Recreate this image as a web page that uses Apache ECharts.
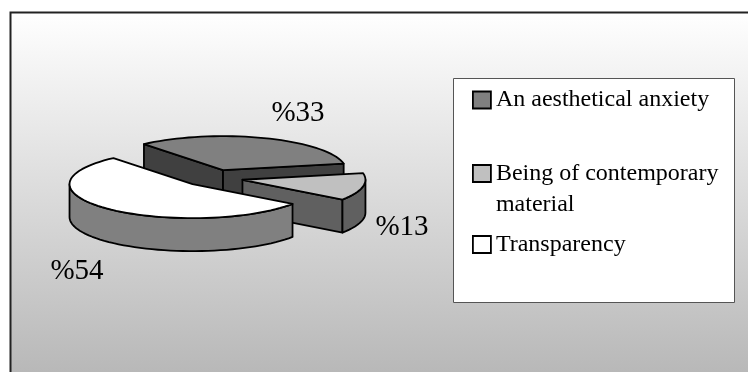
<!DOCTYPE html>
<html><head><meta charset="utf-8">
<style>html,body{margin:0;padding:0;background:#fff}#c{width:748px;height:372px}</style>
<script src="https://cdn.jsdelivr.net/npm/echarts@6/dist/echarts.min.js"></script>
</head><body><div id="c"></div>
<script>
const categories = ['An aesthetical anxiety', 'Being of contemporary material', 'Transparency'];
const values = [33, 13, 54];
const topColors = ['#808080', '#c0c0c0', '#ffffff'];
const sideColors = ['#404040', '#606060', '#808080'];

const FONT = '"Liberation Serif","Times New Roman",serif';
const CX = 213, CY = 178, RX = 123, RY = 34, DEPTH = 33, EXPLODE = 0.245, START = 230;
const labelPos = [[298, 113], [402, 227], [77, 271]];
const total = values.reduce((a, b) => a + b, 0);

function pt(cx, cy, deg) {
  const r = deg * Math.PI / 180;
  return [cx + RX * Math.cos(r), cy + RY * Math.sin(r)];
}
function arc(cx, cy, a, b) {
  const out = [];
  const n = Math.max(2, Math.ceil((b - a) / 3));
  for (let i = 0; i <= n; i++) out.push(pt(cx, cy, a + (b - a) * i / n));
  return out;
}
function renderSlice(params, api) {
  const i = params.seriesIndex;
  const v = api.value(0);
  let before = 0;
  for (let k = 0; k < i; k++) before += values[k];
  const a = START + before / total * 360;
  const b = a + v / total * 360;
  const mid = (a + b) / 2 * Math.PI / 180;
  const cx = CX + EXPLODE * RX * Math.cos(mid);
  const cy = CY + EXPLODE * RY * Math.sin(mid);
  const stroke = {stroke: '#000', lineWidth: 1.8, lineJoin: 'round'};
  const poly = (points, fill) => ({type: 'polygon', silent: true, shape: {points}, style: Object.assign({fill}, stroke)});
  const children = [];
  const wall = (deg) => {
    const p = pt(cx, cy, deg);
    children.push(poly([[cx, cy], p, [p[0], p[1] + DEPTH], [cx, cy + DEPTH]], sideColors[i]));
  };
  if (Math.cos(a * Math.PI / 180) < 0) wall(a);
  if (Math.cos(b * Math.PI / 180) > 0) wall(b);
  // visible outer rim: portions of the arc that face the viewer (sin > 0)
  for (let turn = 0; turn <= 720; turn += 360) {
    const s = Math.max(a, turn), e = Math.min(b, turn + 180);
    if (e > s) {
      const upper = arc(cx, cy, s, e);
      const lower = upper.map(p => [p[0], p[1] + DEPTH]).reverse();
      children.push(poly(upper.concat(lower), sideColors[i]));
    }
  }
  children.push(poly([[cx, cy]].concat(arc(cx, cy, a, b)), topColors[i]));
  children.push({type: 'text', silent: true, style: {
    x: labelPos[i][0], y: labelPos[i][1], text: '%' + v, fill: '#000',
    font: '29px ' + FONT, align: 'center', verticalAlign: 'middle'}});
  return {type: 'group', children};
}

const legendTops = [84.5, 127, 229];
const LH = 31;
const chart = echarts.init(document.getElementById('c'), null, {renderer: 'canvas'});
chart.setOption({
  animation: false,
  graphic: [
    {type: 'rect', z: -2, silent: true, shape: {x: 10.5, y: 12.5, width: 760, height: 380},
      style: {stroke: '#222', lineWidth: 2,
        fill: new echarts.graphic.LinearGradient(0, 0, 0, 1, [
          {offset: 0, color: '#ffffff'}, {offset: 1, color: '#b4b4b4'}])}},
    {type: 'rect', z: -1, silent: true, shape: {x: 453.5, y: 78.5, width: 281, height: 224},
      style: {fill: '#fff', stroke: '#555', lineWidth: 1}}
  ],
  legend: categories.map((name, i) => ({
    data: [name], left: 472, top: legendTops[i], orient: 'vertical',
    padding: 0, selectedMode: false, icon: 'rect', itemWidth: 18, itemHeight: 17, itemGap: 0,
    itemStyle: {borderColor: '#000', borderWidth: 1.8},
    formatter: i === 1 ? ' \nBeing of contemporary\nmaterial' : '{name}',
    textStyle: {color: '#000', fontFamily: FONT, fontSize: 24, lineHeight: LH}
  })),
  series: categories.map((name, i) => ({
    type: 'custom', name, coordinateSystem: 'none', renderItem: renderSlice,
    itemStyle: {color: topColors[i]}, color: topColors[i],
    data: [[values[i]]]
  }))
});
</script></body></html>
